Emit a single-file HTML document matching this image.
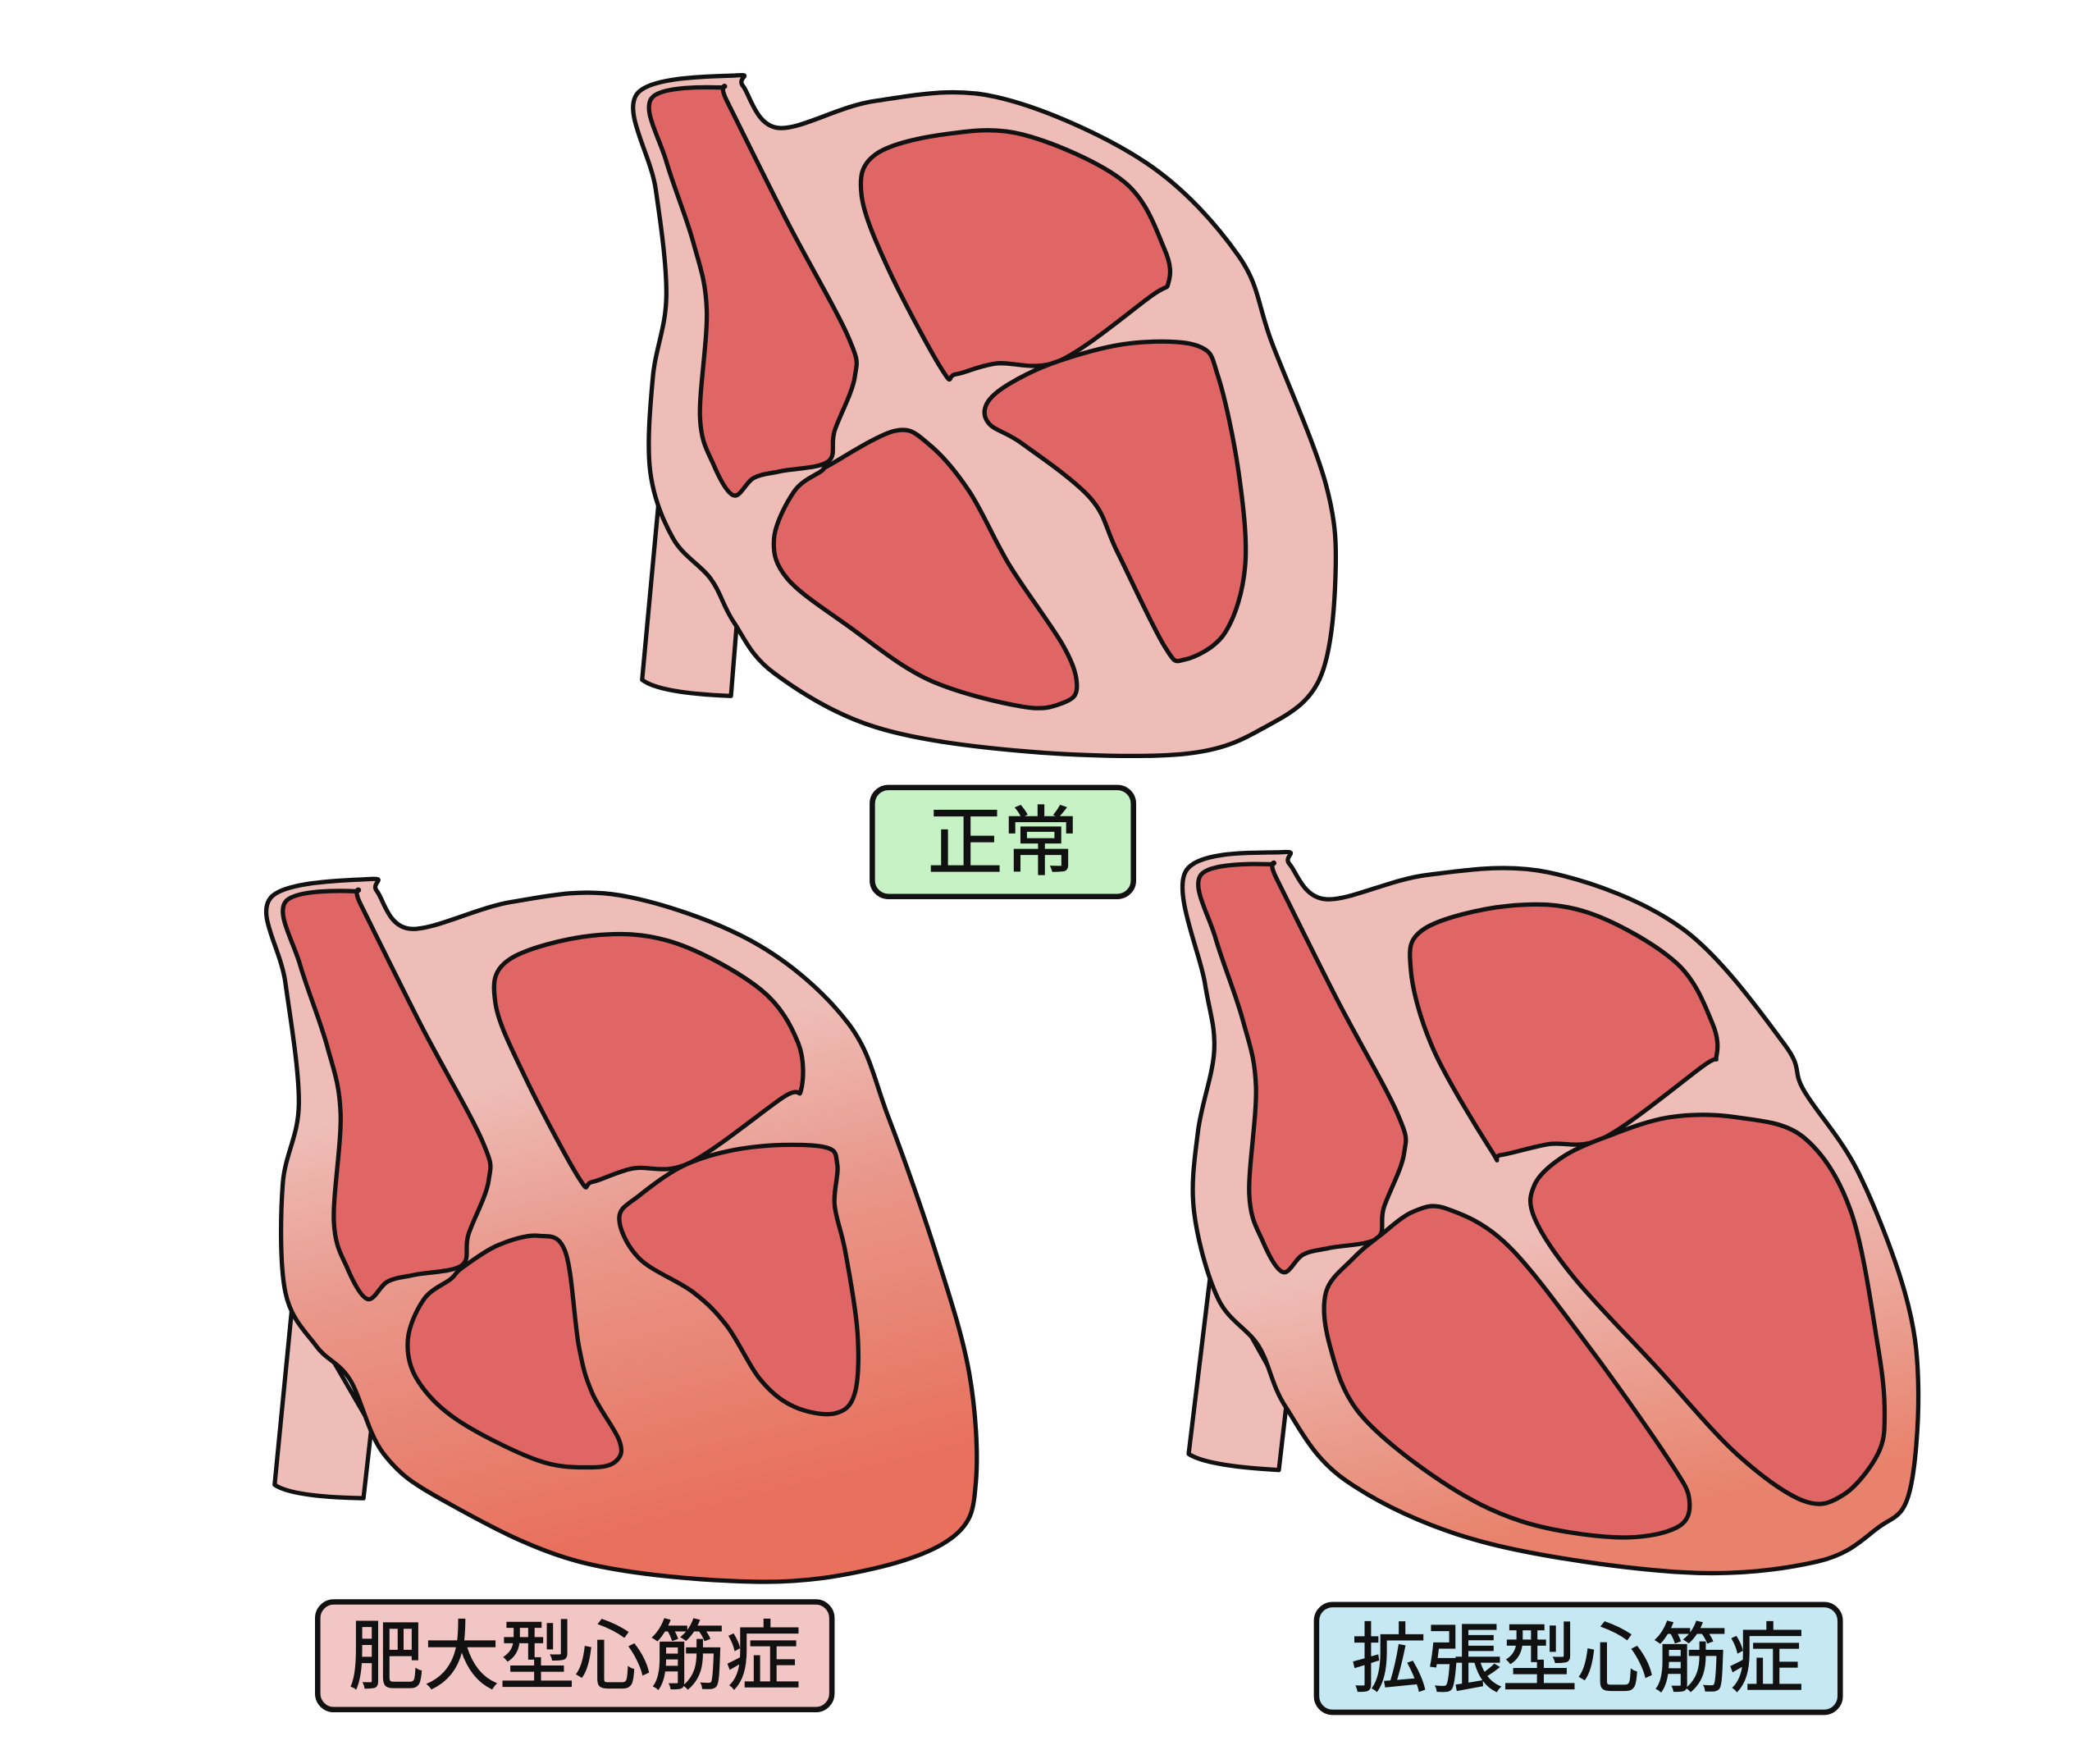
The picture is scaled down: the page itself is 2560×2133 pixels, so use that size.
<!DOCTYPE html>
<html><head><meta charset="utf-8"><style>
html,body{margin:0;padding:0;background:#fff;}
svg{display:block}
text{font-family:"Liberation Sans","Noto Sans CJK JP",sans-serif;}
</style></head><body>
<svg id="s" width="2560" height="2133" viewBox="0 0 1560 1300" preserveAspectRatio="none" xmlns="http://www.w3.org/2000/svg">
<defs>
<linearGradient id="hg" x1="0" y1="0" x2="0.25" y2="1">
<stop offset="0" stop-color="#eebdb7"/><stop offset="0.35" stop-color="#eebdb7"/><stop offset="0.6" stop-color="#e9978a"/><stop offset="1" stop-color="#e8705c"/></linearGradient>
<linearGradient id="dg" x1="0" y1="0" x2="0.2" y2="1">
<stop offset="0" stop-color="#eebdb7"/><stop offset="0.6" stop-color="#eebdb7"/><stop offset="1" stop-color="#e8826c"/></linearGradient>
</defs>
<g stroke="#111" stroke-width="3.2" stroke-linejoin="round" fill="#eebdb7">
<path d="M490,365 L477,505 Q490,515 543,517 L548,455 Z"/>
<path d="M218,960 L204,1103 Q217,1112 270,1113 L276,1060 Z"/>
<path d="M900,940 L883,1080 Q896,1089 950,1092 L956,1040 Z"/>
</g>
<g id="g" stroke="#111" stroke-width="3.2" stroke-linejoin="round" stroke-linecap="round"></g>
<g stroke="#111" stroke-width="4">
<rect x="648" y="585" width="194" height="81" rx="12" fill="#c6f2c6"/>
<rect x="236" y="1190" width="382" height="80" rx="12" fill="#f2c6c4"/>
<rect x="978" y="1192" width="389" height="80" rx="12" fill="#c6e8f2"/>
</g>
<text x="745" y="645" font-size="56" text-anchor="middle" fill="#111" stroke="#111" stroke-width="0.8">正常</text>
<text x="427" y="1250" font-size="56" text-anchor="middle" fill="#111" stroke="#111" stroke-width="0.8">肥大型心筋症</text>
<text x="1172" y="1252" font-size="56" text-anchor="middle" fill="#111" stroke="#111" stroke-width="0.8">拡張型心筋症</text>
</svg>
<script>
function sm(p,closed){
 var n=p.length,d="M"+p[0][0]+","+p[0][1];
 for(var i=0;i<(closed?n:n-1);i++){
  var p0=p[(i-1+n)%n],p1=p[i],p2=p[(i+1)%n],p3=p[(i+2)%n];
  if(!closed){if(i==0)p0=p1;if(i+2>=n)p3=p2;}
  var c1=[p1[0]+(p2[0]-p0[0])/6,p1[1]+(p2[1]-p0[1])/6],c2=[p2[0]-(p3[0]-p1[0])/6,p2[1]-(p3[1]-p1[1])/6];
  d+="C"+c1+" "+c2+" "+p2;
 }
 return d+(closed?"Z":"");
}
function tr(p,dx,dy){return p.map(function(q){return [q[0]+dx,q[1]+dy]});}
var g=document.getElementById("g"),out="";
function P(pts,fill,closed){out+='<path d="'+sm(pts,closed!==false)+'" fill="'+fill+'"/>';}
var LT="#eebdb7",CH="#e06666";
var LA=[[484,73],[535,65],[540,75],[585,165],[630,250],[635,280],[620,320],[615,343],[580,350],[560,355],[545,368],[530,345],[520,310],[525,230],[515,180],[495,120]];
// Normal
P([[473,70],[547,56],[552,64],[578,95],[650,75],[740,72],[850,120],[920,190],[945,255],[985,360],[992,430],[980,505],[940,540],[880,560],[760,558],[650,540],[575,500],[545,462],[528,430],[500,400],[483,350],[485,280],[495,220],[487,140]],LT);
P(LA,CH);
P([[650,115],[700,100],[760,100],[835,135],[865,185],[868,210],[855,220],[787,268],[740,270],[710,278],[700,275],[660,200],[640,145]],CH);
P([[787,268],[840,255],[890,257],[905,280],[920,350],[925,420],[910,470],[880,490],[865,480],[830,410],[810,370],[760,330],[735,315],[733,300],[750,285]],CH);
P([[617,345],[665,320],[690,330],[720,365],[750,420],[790,480],[800,510],[790,522],[760,525],[690,505],[630,465],[585,430],[575,400],[590,365],[610,350]],CH);
// HCM
P([[201,667],[275,653],[280,662],[305,690],[380,670],[460,665],[560,700],[630,760],[660,830],[695,930],[720,1020],[725,1100],[710,1140],[650,1165],[560,1175],[430,1160],[330,1115],[285,1080],[260,1025],[235,1000],[212,960],[210,880],[222,820],[212,730]],"url(#hg)");
P(tr(LA,-272,597),CH);
P([[378,713],[440,695],[500,700],[565,735],[593,775],[595,810],[582,815],[512,864],[470,868],[440,878],[430,875],[390,800],[368,745]],CH);
P([[512,864],[560,852],[612,852],[622,865],[620,895],[628,930],[637,990],[635,1035],[620,1050],[590,1045],[565,1025],[540,985],[515,960],[475,935],[460,905],[475,888]],CH);
P([[343,942],[370,925],[400,918],[420,930],[430,1000],[440,1035],[460,1070],[458,1085],[440,1090],[400,1085],[340,1055],[310,1025],[303,995],[315,965],[335,950]],CH);
// DCM
P([[881,647],[953,633],[958,642],[985,668],[1060,650],[1150,648],[1250,690],[1325,775],[1340,810],[1380,870],[1415,960],[1425,1030],[1418,1110],[1395,1135],[1350,1160],[1250,1168],[1100,1145],[1000,1100],[955,1045],[935,1000],[905,965],[887,900],[890,840],[902,780],[895,730]],"url(#dg)");
P(tr(LA,408,577),CH);
P([[1058,690],[1120,673],[1180,678],[1245,715],[1272,760],[1275,785],[1265,792],[1192,845],[1150,850],[1115,858],[1108,855],[1065,780],[1048,720]],CH);
P([[1192,845],[1240,830],[1290,830],[1340,845],[1375,900],[1395,1000],[1400,1050],[1395,1080],[1370,1110],[1340,1115],[1290,1080],[1230,1015],[1170,950],[1140,905],[1140,880],[1160,860]],CH);
P([[1025,918],[1050,900],[1075,898],[1120,925],[1180,1000],[1240,1085],[1255,1115],[1245,1135],[1200,1142],[1130,1130],[1070,1100],[1010,1050],[988,1000],[985,960],[1005,935]],CH);
g.innerHTML=out;
</script>
</body></html>
